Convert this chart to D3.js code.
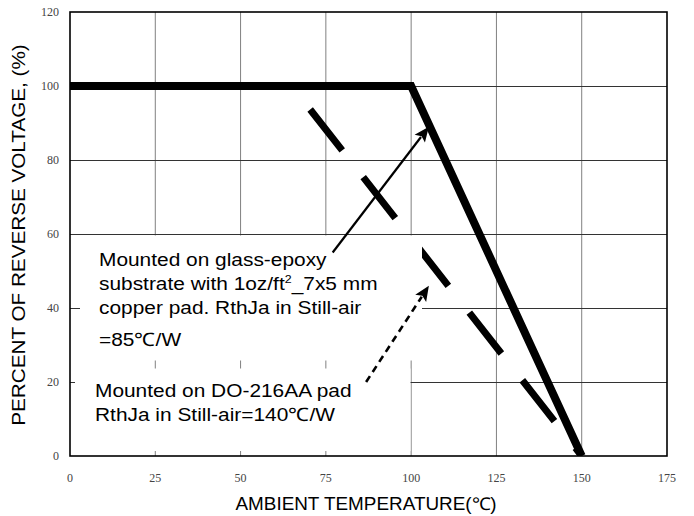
<!DOCTYPE html>
<html>
<head>
<meta charset="utf-8">
<script src="https://cdn.jsdelivr.net/npm/d3@7"></script>
<style>
  html, body { margin: 0; padding: 0; background: #fff; }
  svg { display: block; }
</style>
</head>
<body>
<svg id="chart" width="694" height="516"></svg>
<script>
// ---- data ----
const xTicks = [0, 25, 50, 75, 100, 125, 150, 175];
const yTicks = [0, 20, 40, 60, 80, 100, 120];
const glassEpoxyTemp = [0, 100, 150];
const glassEpoxyPct  = [100, 100, 0];
const do216Temp = [0, 65, 150];
const do216Pct  = [100, 100, 0];
const note1Lines = ["Mounted on glass-epoxy", "substrate with 1oz/ft|2|_7x5 mm", "copper pad. RthJa in Still-air", "=85℃/W"];
const note2Lines = ["Mounted on DO-216AA pad", "RthJa in Still-air=140℃/W"];
const arrow1 = { from: [77, 55], to: [105.2, 89] };   // [temp, pct]
const arrow2 = { from: [86.8, 20], to: [105.2, 46] };
const xTitle = "AMBIENT TEMPERATURE(℃)";
const yTitle = "PERCENT OF REVERSE VOLTAGE, (%)";

// ---- layout ----
const L = 70, R = 667, T = 12, B = 456;
const x = d3.scaleLinear().domain([0, 175]).range([L, R]);
const y = d3.scaleLinear().domain([0, 120]).range([B, T]);
const svg = d3.select("#chart");
const sans = "'Liberation Sans', Arial, Helvetica, sans-serif";
const serif = "'Liberation Serif', 'Times New Roman', serif";
const stretch = 1.13;

svg.append("defs").append("clipPath").attr("id", "plotclip")
  .append("rect").attr("x", L).attr("y", T).attr("width", R - L).attr("height", B - T);

// grid
const grid = svg.append("g");
grid.selectAll("line.v").data(xTicks.filter(d => d > 0 && d < 175)).join("line")
  .attr("x1", d => x(d)).attr("x2", d => x(d)).attr("y1", T).attr("y2", B)
  .attr("stroke", "#808080").attr("stroke-width", 1);
grid.selectAll("line.h").data(yTicks.filter(d => d > 0 && d < 120)).join("line")
  .attr("x1", L).attr("x2", R).attr("y1", d => Math.round(y(d)) + 0.5).attr("y2", d => Math.round(y(d)) + 0.5)
  .attr("stroke", "#333").attr("stroke-width", 1);

// curves
const line = d3.line().x(d => x(d[0])).y(d => y(d[1]));
const plot = svg.append("g").attr("clip-path", "url(#plotclip)");
plot.append("path").datum(do216Temp.map((t, i) => [t, do216Pct[i]]))
  .attr("d", line).attr("fill", "none").attr("stroke", "#000").attr("stroke-width", 7)
  .attr("stroke-dasharray", "52,34").attr("stroke-dashoffset", 6.4).attr("stroke-linejoin", "miter");
plot.append("path").datum(glassEpoxyTemp.map((t, i) => [t, glassEpoxyPct[i]]))
  .attr("d", line).attr("fill", "none").attr("stroke", "#000").attr("stroke-width", 8)
  .attr("stroke-linejoin", "miter");

// white note boxes
svg.append("rect").attr("x", 80).attr("y", 235.5).attr("width", 342).attr("height", 125).attr("fill", "#fff");
svg.append("rect").attr("x", 75).attr("y", 368.5).attr("width", 335.5).attr("height", 82.5).attr("fill", "#fff");

// frame
svg.append("rect").attr("x", L).attr("y", T).attr("width", R - L).attr("height", B - T)
  .attr("fill", "none").attr("stroke", "#000").attr("stroke-width", 1.6);

// tick labels
svg.append("g").selectAll("text").data(yTicks).join("text")
  .attr("x", 59).attr("y", d => y(d) + 4).attr("text-anchor", "end")
  .attr("font-family", serif).attr("font-size", 12).attr("fill", "#444").text(d => d);
svg.append("g").selectAll("text").data(xTicks).join("text")
  .attr("x", d => x(d)).attr("y", 482).attr("text-anchor", "middle")
  .attr("font-family", serif).attr("font-size", 12).attr("fill", "#444").text(d => d);

// axis titles
svg.append("text").attr("transform", `translate(366,510) scale(1.08,1)`)
  .attr("text-anchor", "middle").attr("font-family", sans).attr("font-size", 17.5).attr("fill", "#000").text(xTitle);
svg.append("text").attr("transform", `translate(25,235) rotate(-90) scale(1.15,1)`)
  .attr("text-anchor", "middle").attr("font-family", sans).attr("font-size", 18).attr("fill", "#000").text(yTitle);

// arrows
function arrow(a, dashed) {
  const x1 = x(a.from[0]), y1 = y(a.from[1]), x2 = x(a.to[0]), y2 = y(a.to[1]);
  const dx = x2 - x1, dy = y2 - y1, len = Math.hypot(dx, dy);
  const ux = dx / len, uy = dy / len, hl = 15, hw = 6.5;
  const bx = x2 - ux * hl, by = y2 - uy * hl;
  svg.append("line").attr("x1", x1).attr("y1", y1).attr("x2", bx + ux * 2).attr("y2", by + uy * 2)
    .attr("stroke", "#000").attr("stroke-width", dashed ? 2.6 : 2.2)
    .attr("stroke-dasharray", dashed ? "7,5" : null);
  svg.append("path")
    .attr("d", `M${x2},${y2}L${bx - uy * hw},${by + ux * hw}L${bx + ux * 3},${by + uy * 3}L${bx + uy * hw},${by - ux * hw}Z`)
    .attr("fill", "#000");
}
arrow(arrow1, false);
arrow(arrow2, true);

// notes
function note(lines, x0, ys) {
  lines.forEach((s, i) => {
    const t = svg.append("text").attr("transform", `translate(${x0},${ys[i]}) scale(${stretch},1)`)
      .attr("font-family", sans).attr("font-size", 18.5).attr("fill", "#000");
    const parts = s.split("|");
    parts.forEach((p, j) => {
      if (j === 1) t.append("tspan").attr("font-size", 11).attr("dy", -7).text(p);
      else t.append("tspan").attr("dy", j === 2 ? 7 : 0).text(p);
    });
  });
}
note(note1Lines, 99, [266, 290, 314, 346]);
note(note2Lines, 95, [397, 421]);
</script>
</body>
</html>
